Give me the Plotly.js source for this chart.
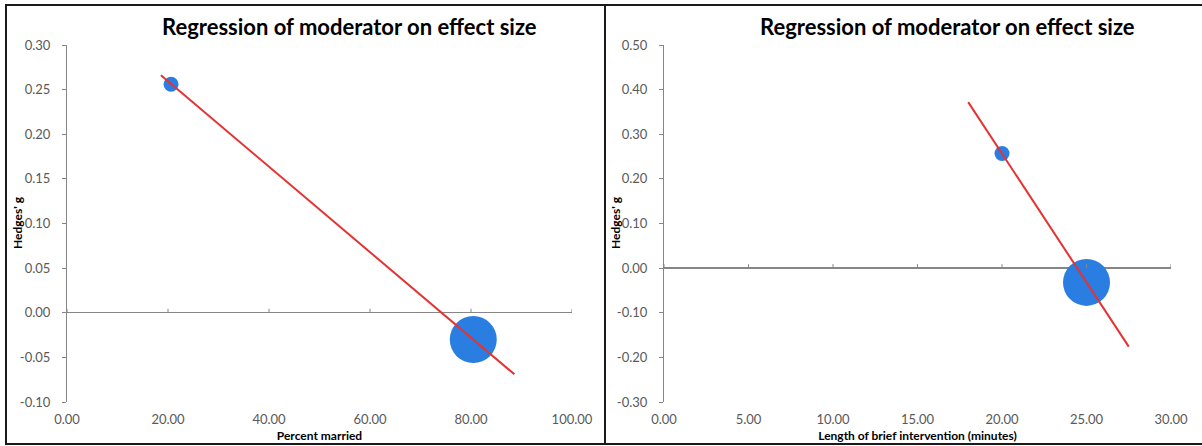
<!DOCTYPE html>
<html>
<head>
<meta charset="utf-8">
<script src="https://cdn.plot.ly/plotly-3.0.1.min.js"></script>
<style>
  html, body { margin: 0; padding: 0; background: #fff; }
  #chart { width: 1202px; height: 446px; }
</style>
</head>
<body>
<div id="chart"></div>
<script>
// Meta-regression panels: effect size (Hedges' g) against two moderators
const chartTitle = "Regression of moderator on effect size";
const yTitle = "Hedges' g";

// Panel 1: percent married
const marriedPct = [20.6, 80.45];
const marriedG = [0.256, -0.030];
const marriedFitX = [18.6, 88.6];
const marriedFitY = [0.266, -0.069];
const marriedWeight = [15, 47];
const marriedXTicks = [0, 20, 40, 60, 80, 100];
const marriedYTicks = [-0.10, -0.05, 0.00, 0.05, 0.10, 0.15, 0.20, 0.25, 0.30];

// Panel 2: length of brief intervention
const lengthMin = [20.0, 25.0];
const lengthG = [0.257, -0.032];
const lengthFitX = [18.0, 27.5];
const lengthFitY = [0.372, -0.176];
const lengthWeight = [15, 47];
const lengthXTicks = [0, 5, 10, 15, 20, 25, 30];
const lengthYTicks = [-0.30, -0.20, -0.10, 0.00, 0.10, 0.20, 0.30, 0.40, 0.50];

const W = 1202, H = 446;
const px = v => v / W;          // pixel -> paper x
const py = v => 1 - v / H;      // pixel -> paper y

const axisGrey = "#868686";
const labelGrey = "#595959";
const FONT = "Lato, 'Open Sans', sans-serif";
const dotBlue = "#2A7DE1";
const fitRed = "#E53232";

const range = a => [a[0], a[a.length - 1]];
const fmt = a => a.map(v => v.toFixed(2));

const dom1 = [px(67), px(572)];
const dom2 = [px(664), px(1171)];
const yDom = [py(402), py(45)];

// Vertical axis; its zero line doubles as the horizontal axis line
function yAxis(ticks, anchor) {
  return {
    domain: yDom, anchor: anchor, range: range(ticks), tickvals: ticks, ticktext: fmt(ticks),
    showgrid: false, showline: true, linecolor: axisGrey, linewidth: 1,
    zeroline: true, zerolinecolor: axisGrey, zerolinewidth: 1.3,
    ticks: "outside", ticklen: 4, tickcolor: axisGrey, ticklabelstandoff: 9,
    tickfont: { family: FONT, size: 13, color: labelGrey }
  };
}
// Horizontal axis labels stay at the bottom of the plot
function xAxis(ticks, dom, anchor, title) {
  return {
    domain: dom, anchor: anchor,
    range: range(ticks), tickvals: ticks, ticktext: fmt(ticks),
    showgrid: false, zeroline: false, showline: false, ticks: "",
    ticklabelstandoff: 8,
    tickfont: { family: FONT, size: 13, color: labelGrey },
    title: { text: title, standoff: 5, font: { family: FONT, size: 12, color: "#000", weight: 700 } }
  };
}
// Upward tick marks on the y = 0 crossing line
function crossTicks(ticks, xr, yr) {
  return ticks.map(t => ({
    type: "line", xref: xr, yref: yr, x0: t, x1: t,
    ysizemode: "pixel", yanchor: 0, y0: 0, y1: 4,
    line: { color: axisGrey, width: 1 }
  }));
}

const traces = [
  { x: marriedPct, y: marriedG, xaxis: "x", yaxis: "y", mode: "markers", type: "scatter",
    marker: { size: marriedWeight, color: dotBlue, opacity: 1, line: { width: 0 } }, hoverinfo: "x+y" },
  { x: marriedFitX, y: marriedFitY, xaxis: "x", yaxis: "y", mode: "lines", type: "scatter",
    line: { color: fitRed, width: 2 }, hoverinfo: "skip" },
  { x: lengthMin, y: lengthG, xaxis: "x2", yaxis: "y2", mode: "markers", type: "scatter",
    marker: { size: lengthWeight, color: dotBlue, opacity: 1, line: { width: 0 } }, hoverinfo: "x+y" },
  { x: lengthFitX, y: lengthFitY, xaxis: "x2", yaxis: "y2", mode: "lines", type: "scatter",
    line: { color: fitRed, width: 2 }, hoverinfo: "skip" }
];

const border = { color: "#1a1a1a", width: 2 };
const titleFont = { family: FONT, size: 22, color: "#000", weight: 700 };
const yTitleFont = { family: FONT, size: 12, color: "#000", weight: 700 };
const layout = {
  width: W, height: H,
  margin: { l: 0, r: 0, t: 0, b: 0 },
  paper_bgcolor: "#fff", plot_bgcolor: "rgba(0,0,0,0)",
  showlegend: false,
  xaxis: xAxis(marriedXTicks, dom1, "y", "Percent married"),
  yaxis: yAxis(marriedYTicks, "x"),
  xaxis2: xAxis(lengthXTicks, dom2, "y2", "Length of brief intervention (minutes)"),
  yaxis2: yAxis(lengthYTicks, "x2"),
  annotations: [
    { text: chartTitle, xref: "paper", yref: "paper", x: px(349), y: py(27),
      xanchor: "center", yanchor: "middle", showarrow: false, font: titleFont },
    { text: chartTitle, xref: "paper", yref: "paper", x: px(947), y: py(27),
      xanchor: "center", yanchor: "middle", showarrow: false, font: titleFont },
    { text: yTitle, xref: "paper", yref: "paper", x: px(17), y: py(223), textangle: -90,
      xanchor: "center", yanchor: "middle", showarrow: false, font: yTitleFont },
    { text: yTitle, xref: "paper", yref: "paper", x: px(615), y: py(223), textangle: -90,
      xanchor: "center", yanchor: "middle", showarrow: false, font: yTitleFont }
  ],
  shapes: [
    { type: "line", xref: "paper", yref: "paper", x0: px(6), x1: px(6), y0: py(5), y1: py(444), line: border },
    { type: "line", xref: "paper", yref: "paper", x0: px(605), x1: px(605), y0: py(5), y1: py(444), line: border },
    { type: "line", xref: "paper", yref: "paper", x0: px(5), x1: 1, y0: py(5), y1: py(5), line: border },
    { type: "line", xref: "paper", yref: "paper", x0: px(5), x1: 1, y0: py(444), y1: py(444), line: border }
  ].concat(crossTicks(marriedXTicks, "x", "y"), crossTicks(lengthXTicks, "x2", "y2"))
};

Plotly.newPlot("chart", traces, layout, { displayModeBar: false, staticPlot: true });
</script>
</body>
</html>
